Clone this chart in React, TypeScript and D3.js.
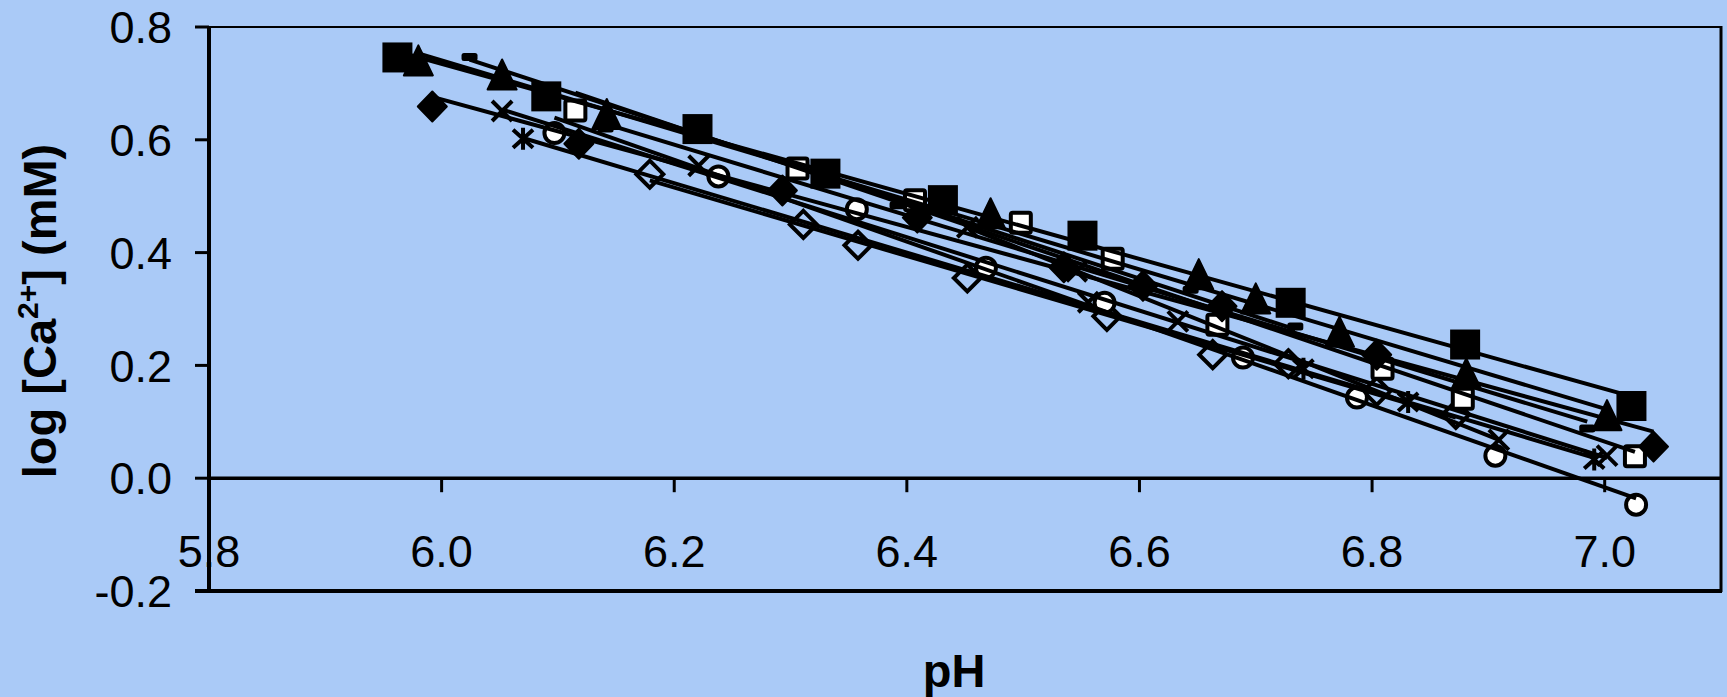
import React from 'react';
import * as d3 from 'd3';

// Axis ticks
const xTicks = [5.8, 6.0, 6.2, 6.4, 6.6, 6.8, 7.0];
const yTicks = [-0.2, 0.0, 0.2, 0.4, 0.6, 0.8];

// Series (pH, log [Ca2+])
const sqFilledPH = [5.962, 6.090, 6.220, 6.330, 6.431, 6.551, 6.730, 6.880, 7.023];
const sqFilledLog = [0.746, 0.677, 0.619, 0.540, 0.493, 0.430, 0.311, 0.237, 0.128];

const triPH = [5.980, 6.052, 6.142, 6.472, 6.651, 6.700, 6.772, 6.881, 7.002];
const triLog = [0.739, 0.714, 0.644, 0.468, 0.360, 0.317, 0.258, 0.184, 0.110];

const diaFilledPH = [5.992, 6.118, 6.293, 6.409, 6.535, 6.603, 6.671, 6.804, 7.042];
const diaFilledLog = [0.659, 0.593, 0.510, 0.462, 0.374, 0.341, 0.305, 0.219, 0.056];

const sqOpenPH = [6.115, 6.306, 6.407, 6.498, 6.577, 6.667, 6.809, 6.878, 7.026];
const sqOpenLog = [0.652, 0.549, 0.493, 0.453, 0.389, 0.272, 0.194, 0.141, 0.039];

const diaOpenPH = [6.179, 6.311, 6.358, 6.452, 6.572, 6.663, 6.728, 6.804, 6.872];
const diaOpenLog = [0.539, 0.450, 0.413, 0.355, 0.287, 0.219, 0.203, 0.154, 0.113];

const circlePH = [6.097, 6.238, 6.357, 6.468, 6.570, 6.689, 6.787, 6.906, 7.027];
const circleLog = [0.612, 0.535, 0.477, 0.373, 0.311, 0.214, 0.143, 0.040, -0.047];

const crossAPH = [6.052, 6.221, 6.556, 6.633, 7.002];
const crossALog = [0.651, 0.554, 0.312, 0.278, 0.040];

const crossBPH = [6.452, 6.546, 6.909];
const crossBLog = [0.445, 0.367, 0.068];

const starPH = [6.070, 6.741, 6.831, 6.991];
const starLog = [0.602, 0.194, 0.135, 0.033];

const dashAPH = [6.024, 6.392, 6.734];
const dashALog = [0.747, 0.484, 0.269];

const dashBPH = [6.141, 6.644, 6.985];
const dashBLog = [0.620, 0.334, 0.088];

type Marker = 'sqFilled' | 'tri' | 'diaFilled' | 'sqOpen' | 'diaOpen' | 'circle' | 'cross' | 'star' | 'dash';

const series: { marker: Marker; xs: number[]; ys: number[] }[] = [
  { marker: 'dash', xs: dashAPH, ys: dashALog },
  { marker: 'dash', xs: dashBPH, ys: dashBLog },
  { marker: 'star', xs: starPH, ys: starLog },
  { marker: 'cross', xs: crossBPH, ys: crossBLog },
  { marker: 'cross', xs: crossAPH, ys: crossALog },
  { marker: 'diaOpen', xs: diaOpenPH, ys: diaOpenLog },
  { marker: 'circle', xs: circlePH, ys: circleLog },
  { marker: 'sqOpen', xs: sqOpenPH, ys: sqOpenLog },
  { marker: 'diaFilled', xs: diaFilledPH, ys: diaFilledLog },
  { marker: 'tri', xs: triPH, ys: triLog },
  { marker: 'sqFilled', xs: sqFilledPH, ys: sqFilledLog },
];

const W = 1727;
const H = 697;
const BG = '#aacaf7';
const FONT = "'Liberation Sans', Arial, sans-serif";

const x = d3.scaleLinear().domain([5.8, 7.1]).range([209, 1721]);
const y = d3.scaleLinear().domain([-0.2, 0.8]).range([591, 27]);

function regression(xs: number[], ys: number[]) {
  const mx = d3.mean(xs) as number;
  const my = d3.mean(ys) as number;
  let num = 0;
  let den = 0;
  xs.forEach((xv, i) => {
    num += (xv - mx) * (ys[i] - my);
    den += (xv - mx) * (xv - mx);
  });
  const b = num / den;
  const a = my - b * mx;
  return { a, b };
}

function MarkerShape({ type, cx, cy }: { type: Marker; cx: number; cy: number }) {
  const sw = 4;
  switch (type) {
    case 'sqFilled':
      return <rect x={cx - 15} y={cy - 15} width={30} height={30} fill="#000" />;
    case 'tri':
      return (
        <path
          d={`M${cx},${cy - 16} L${cx + 14.5},${cy + 14} L${cx - 14.5},${cy + 14} Z`}
          fill="#000"
          stroke="#000"
          strokeWidth={2}
          strokeLinejoin="round"
        />
      );
    case 'diaFilled':
      return (
        <path
          d={`M${cx},${cy - 15} L${cx + 14.5},${cy} L${cx},${cy + 15} L${cx - 14.5},${cy} Z`}
          fill="#000"
          stroke="#000"
          strokeWidth={2}
          strokeLinejoin="round"
        />
      );
    case 'sqOpen':
      return (
        <rect x={cx - 10} y={cy - 10} width={20} height={20} rx={2} fill="#fff" stroke="#000" strokeWidth={sw} />
      );
    case 'diaOpen':
      return (
        <path
          d={`M${cx},${cy - 13.5} L${cx + 13.5},${cy} L${cx},${cy + 13.5} L${cx - 13.5},${cy} Z`}
          fill="none"
          stroke="#000"
          strokeWidth={sw}
        />
      );
    case 'circle':
      return <circle cx={cx} cy={cy} r={10} fill="#fff" stroke="#000" strokeWidth={sw} />;
    case 'cross':
      return (
        <path
          d={`M${cx - 10},${cy - 10} L${cx + 10},${cy + 10} M${cx + 10},${cy - 10} L${cx - 10},${cy + 10}`}
          stroke="#000"
          strokeWidth={sw}
        />
      );
    case 'star':
      return (
        <path
          d={`M${cx - 10},${cy - 9} L${cx + 10},${cy + 9} M${cx + 10},${cy - 9} L${cx - 10},${cy + 9} M${cx},${cy - 11} L${cx},${cy + 11}`}
          stroke="#000"
          strokeWidth={sw}
        />
      );
    case 'dash':
      return <rect x={cx - 8} y={cy - 4} width={16} height={8} rx={2.5} fill="#000" />;
  }
  return null;
}

export default function App() {
  const fmt = (v: number) => v.toFixed(1);
  return (
    <svg
      width={W}
      height={H}
      style={{ position: 'absolute', left: 0, top: 0, display: 'block' }}
      xmlns="http://www.w3.org/2000/svg"
    >
      <rect x={0} y={0} width={W} height={H} fill={BG} />

      {/* plot frame */}
      <rect x={209} y={27} width={1721 - 209} height={591 - 27} fill="none" stroke="#000" strokeWidth={2} />
      <line x1={1721} y1={26} x2={1721} y2={592} stroke="#000" strokeWidth={3} />
      <line x1={195} y1={591} x2={1722} y2={591} stroke="#000" strokeWidth={4} />

      {/* y axis */}
      <line x1={209} y1={26} x2={209} y2={593} stroke="#000" strokeWidth={4} />
      {yTicks.map((t) => (
        <g key={'y' + t}>
          <line x1={195} x2={209} y1={y(t)} y2={y(t)} stroke="#000" strokeWidth={3} />
          <text
            x={172}
            y={y(t)}
            dy="0.36em"
            textAnchor="end"
            fontFamily={FONT}
            fontSize={45}
            fill="#000"
          >
            {fmt(t)}
          </text>
        </g>
      ))}

      {/* x axis at y = 0 */}
      <line x1={209} y1={y(0)} x2={1721} y2={y(0)} stroke="#000" strokeWidth={3.5} />
      {xTicks.map((t) => (
        <g key={'x' + t}>
          <line x1={x(t)} x2={x(t)} y1={y(0)} y2={y(0) + 14} stroke="#000" strokeWidth={3} />
          <text x={x(t)} y={567} textAnchor="middle" fontFamily={FONT} fontSize={45} fill="#000">
            {fmt(t)}
          </text>
        </g>
      ))}

      {/* markers */}
      {series.map((s, si) => (
        <g key={'m' + si}>
          {s.xs.map((xv, i) => (
            <MarkerShape key={i} type={s.marker} cx={x(xv)} cy={y(s.ys[i])} />
          ))}
        </g>
      ))}

      {/* linear trendlines */}
      {series.map((s, si) => {
        const { a, b } = regression(s.xs, s.ys);
        const x0 = d3.min(s.xs) as number;
        const x1 = d3.max(s.xs) as number;
        return (
          <line
            key={'t' + si}
            x1={x(x0)}
            y1={y(a + b * x0)}
            x2={x(x1)}
            y2={y(a + b * x1)}
            stroke="#000"
            strokeWidth={4}
          />
        );
      })}

      {/* axis titles */}
      <text
        x={954}
        y={687}
        textAnchor="middle"
        fontFamily={FONT}
        fontWeight="bold"
        fontSize={47}
        fill="#000"
      >
        pH
      </text>
      <text
        transform="translate(56,311) rotate(-90)"
        textAnchor="middle"
        fontFamily={FONT}
        fontWeight="bold"
        fontSize={47}
        fill="#000"
      >
        log [Ca
        <tspan fontSize={30} dy={-18}>2+</tspan>
        <tspan dy={18}>] (mM)</tspan>
      </text>
    </svg>
  );
}
